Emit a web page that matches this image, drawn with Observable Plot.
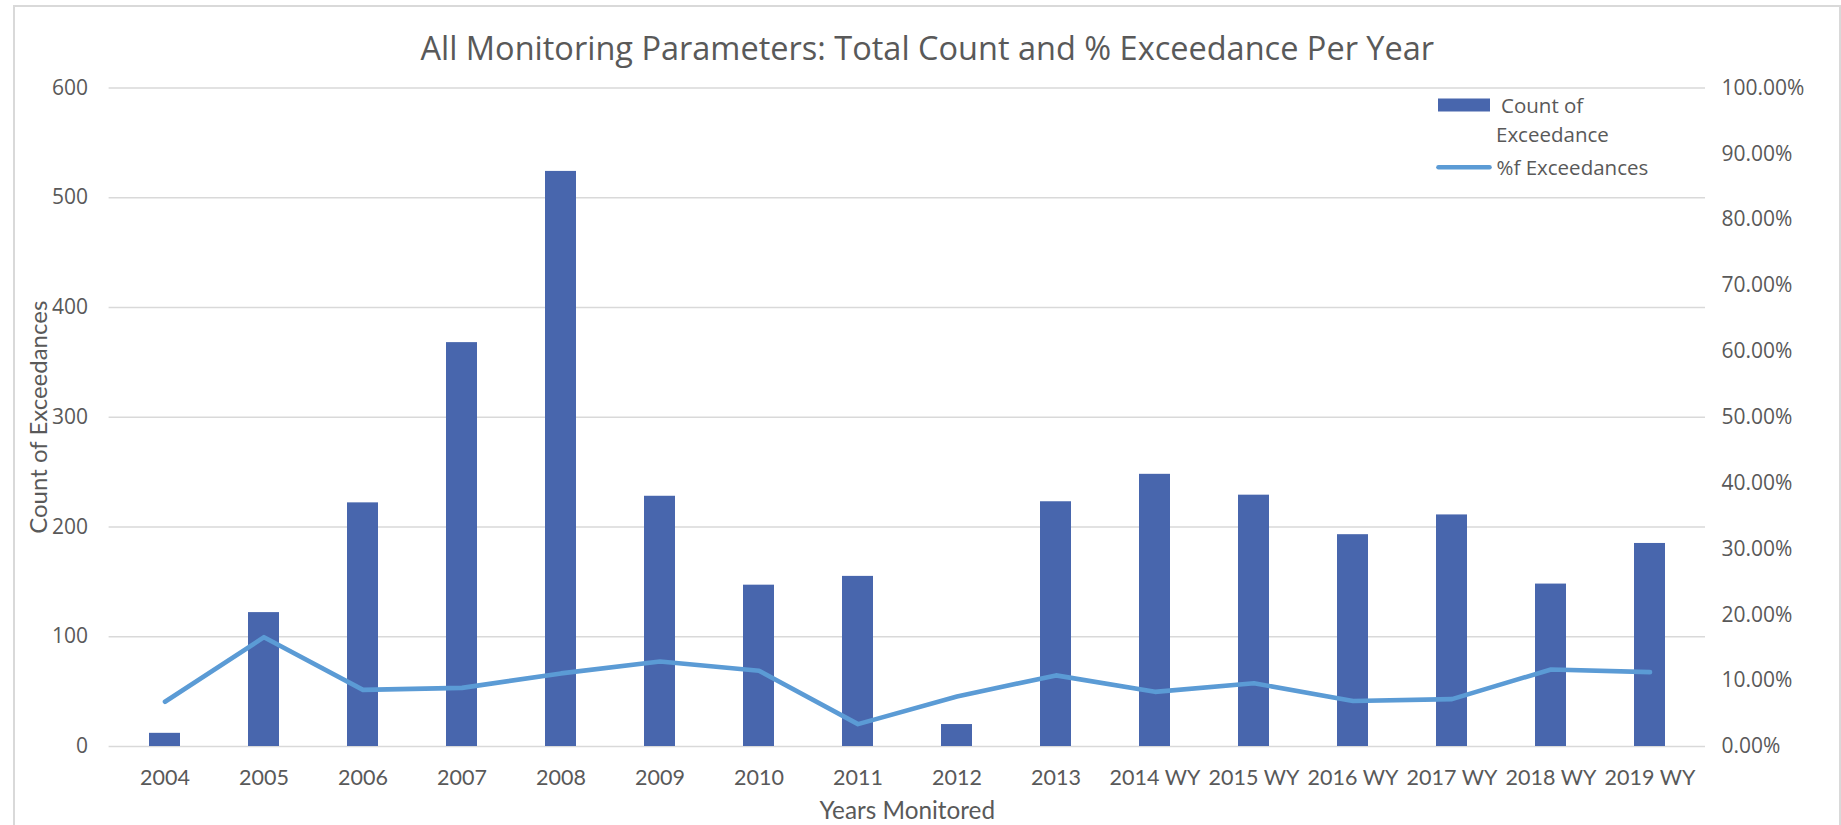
<!DOCTYPE html>
<html>
<head>
<meta charset="utf-8">
<script src="https://cdn.jsdelivr.net/npm/d3@7"></script>
<script src="https://cdn.jsdelivr.net/npm/@observablehq/plot@0.6"></script>
<style>
  html, body { margin: 0; padding: 0; background: #fff; }
  body { width: 1841px; height: 825px; overflow: hidden; position: relative; }
  #frame { position: absolute; left: 13px; top: 5px; width: 1828px; height: 900px; border: 2px solid #D9D9D9; box-sizing: border-box; }
  #chart { position: absolute; left: 0; top: 0; }
</style>
</head>
<body>
<div id="frame"></div>
<div id="chart"></div>
<script>
// ---- data ----
const years = ["2004", "2005", "2006", "2007", "2008", "2009", "2010", "2011", "2012", "2013",
  "2014 WY", "2015 WY", "2016 WY", "2017 WY", "2018 WY", "2019 WY"];
const counts = [12, 122, 222, 368, 524, 228, 147, 155, 20, 223, 248, 229, 193, 211, 148, 185];
const pctExceed = [6.8, 16.6, 8.6, 8.9, 11.1, 12.9, 11.5, 3.4, 7.6, 10.8, 8.3, 9.6, 6.9, 7.2, 11.7, 11.3];
const countTicks = [0, 100, 200, 300, 400, 500, 600];
const pctTicks = [0, 10, 20, 30, 40, 50, 60, 70, 80, 90, 100];
const titleText = "All Monitoring Parameters: Total Count and % Exceedance Per Year";
const yTitle = "Count of Exceedances";
const xTitle = "Years Monitored";
const legendBar = ["Count of", "Exceedance"];
const legendLine = "%f Exceedances";

// count axis 0..600 corresponds to pct axis 0..100 %
const pctToCount = 600 / 100;

const data = years.map((year, i) => ({ year, count: counts[i], pct: pctExceed[i] }));

const textColor = "#595959";
const barColor = "#4866AD";
const lineColor = "#5B9BD5";

const chart = Plot.plot({
  width: 1841,
  height: 825,
  marginLeft: 108.6,
  marginRight: 136,
  marginTop: 87.5,
  marginBottom: 79,
  style: { background: "transparent", color: textColor, fontFamily: "'Open Sans', sans-serif", fontSize: "21px" },
  x: { type: "band", domain: years, paddingInner: 0.69, paddingOuter: 0.345, label: null },
  y: { domain: [0, 600], label: null },
  marks: [
    Plot.gridY(countTicks, { stroke: "#D9D9D9", strokeOpacity: 1, strokeWidth: 1.6 }),
    Plot.axisY(countTicks, { anchor: "left", tickSize: 0, tickPadding: 21, label: null, fontSize: 21, fill: textColor }),
    Plot.axisY(pctTicks.map(p => p * pctToCount), {
      anchor: "right", tickSize: 0, tickPadding: 16, label: null, fontSize: 21, fill: textColor,
      tickFormat: d => (d / pctToCount).toFixed(2) + "%"
    }),
    Plot.axisX({ anchor: "bottom", tickSize: 0, tickPadding: 23, label: null, fontFamily: "Lato", fontSize: 21.5, fill: textColor }),
    Plot.barY(data, { x: "year", y: "count", fill: barColor }),
    Plot.lineY(data, { x: "year", y: d => d.pct * pctToCount, stroke: lineColor, strokeWidth: 4.6, strokeLinecap: "round", strokeLinejoin: "round" }),
    Plot.text([titleText], { frameAnchor: "top", lineAnchor: "middle", dx: 20, dy: -38, fontFamily: "'Open Sans'", fontSize: 32.5, fill: textColor }),
    Plot.text([xTitle], { frameAnchor: "bottom", lineAnchor: "middle", dy: 65, fontFamily: "Lato", fontSize: 24.3, fill: textColor }),
    Plot.text([yTitle], { frameAnchor: "left", textAnchor: "middle", lineAnchor: "middle", dx: -69.5, rotate: -90, fontFamily: "Lato", fontSize: 24, fill: textColor })
  ]
});

// legend (static key, drawn in the same SVG)
const svg = d3.select(chart);
const lg = svg.append("g").attr("font-family", "'Open Sans', sans-serif").attr("font-size", 20.5)
  .attr("fill", textColor).attr("text-anchor", "start");
lg.append("rect").attr("x", 1438).attr("y", 98.5).attr("width", 52).attr("height", 13).attr("fill", barColor);
lg.append("text").attr("x", 1501).attr("y", 112.5).text(legendBar[0]);
lg.append("text").attr("x", 1496).attr("y", 141.5).text(legendBar[1]);
lg.append("line").attr("x1", 1438.5).attr("x2", 1489.5).attr("y1", 167.3).attr("y2", 167.3)
  .attr("stroke", lineColor).attr("stroke-width", 4.6).attr("stroke-linecap", "round");
lg.append("text").attr("x", 1496.5).attr("y", 174.5).text(legendLine);

document.getElementById("chart").appendChild(chart);
</script>
</body>
</html>
